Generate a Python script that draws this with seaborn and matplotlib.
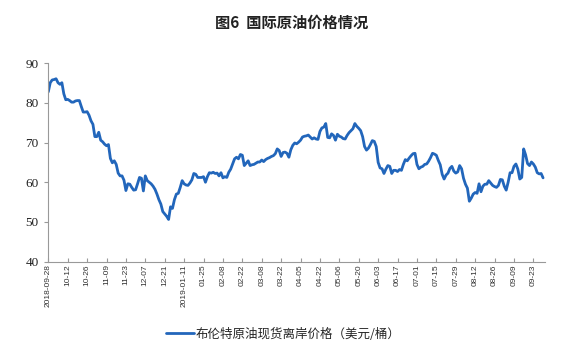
import matplotlib
matplotlib.use("Agg")
import matplotlib.pyplot as plt
import seaborn as sns
import pandas as pd

# Brent spot FOB price, one value per trading day
prices = [
    82.8, 85.1, 85.8, 85.9, 86.1, 85.1, 84.7, 85.1, 82.3, 80.8,
    80.9, 80.6, 80.2, 80.2, 80.5, 80.6, 80.6, 79.1, 77.7, 77.7,
    77.8, 76.9, 75.5, 74.6, 71.5, 71.5, 72.6, 70.6, 70.2, 69.6,
    69.2, 69.5, 66.0, 64.9, 65.4, 64.5, 62.3, 61.6, 61.6, 60.5,
    57.9, 59.6, 59.5, 58.7, 58.0, 58.1, 59.6, 61.2, 61.0, 57.8,
    61.6, 60.4, 60.0, 59.6, 59.0, 58.2, 57.0, 55.6, 54.5, 52.6,
    52.0, 51.4, 50.6, 53.8, 53.4, 55.6, 57.0, 57.2, 58.7, 60.4,
    59.6, 59.3, 59.2, 59.8, 60.6, 62.2, 62.0, 61.2, 61.2, 61.2,
    61.4, 60.0, 61.4, 62.4, 62.3, 62.5, 62.2, 62.3, 61.6, 62.4,
    61.1, 61.4, 61.2, 62.5, 63.3, 64.6, 65.9, 66.3, 65.9, 67.0,
    66.8, 64.2, 64.8, 65.4, 64.2, 64.4, 64.5, 64.8, 65.1, 65.1,
    65.6, 65.2, 65.7, 66.0, 66.2, 66.5, 66.7, 67.2, 68.4, 68.0,
    66.5, 67.5, 67.6, 67.3, 66.3, 68.2, 69.3, 69.9, 69.7, 70.1,
    70.6, 71.4, 71.6, 71.7, 71.9, 71.4, 70.9, 71.2, 70.9, 70.8,
    72.8, 73.7, 73.9, 74.8, 71.3, 71.2, 72.2, 71.8, 70.6, 72.1,
    71.6, 71.4, 71.0, 70.9, 71.8, 72.5, 73.0, 73.5, 74.8, 74.1,
    73.6, 73.0, 71.5, 69.0, 68.1, 68.6, 69.5, 70.5, 70.3, 69.0,
    65.0, 63.6, 63.4, 62.2, 63.3, 64.2, 64.0, 62.2, 63.0, 63.0,
    62.7, 63.2, 63.0, 64.5, 65.7, 65.4, 66.1, 66.7, 67.2, 67.3,
    64.5, 63.4, 63.8, 64.0, 64.5, 64.6, 65.3, 66.2, 67.3, 67.1,
    66.8, 65.5, 64.4, 62.0, 60.8, 61.8, 62.3, 63.5, 64.0, 62.8,
    62.3, 62.6, 64.2, 63.4, 61.0, 59.5, 58.5, 55.2, 56.0, 57.0,
    57.4, 57.2, 59.6, 57.6, 59.0, 59.5, 59.5, 60.4, 59.8, 59.2,
    58.9, 58.7, 59.2, 60.7, 60.6, 59.0, 58.0, 60.0, 62.4, 62.4,
    64.0, 64.6, 63.3, 60.8, 61.2, 68.4, 66.9, 64.7, 64.2, 65.1,
    64.6, 63.8, 62.4, 62.1, 62.2, 61.1,
]

tick_labels = [
    "2018-09-28", "10-12", "10-26", "11-09", "11-23", "12-07", "12-21",
    "2019-01-11", "01-25", "02-08", "02-22", "03-08", "03-22", "04-05",
    "04-22", "05-06", "05-20", "06-03", "06-17", "07-01", "07-15",
    "07-29", "08-12", "08-26", "09-09", "09-23",
]
y_ticks = [40, 50, 60, 70, 80, 90]
series_name = "布伦特原油现货离岸价格（美元/桶）"
title = "图6  国际原油价格情况"

df = pd.DataFrame({"day": list(range(len(prices))), "price": prices})

sns.set_theme(style="white")
plt.rcParams["font.family"] = ["Noto Sans CJK SC", "DejaVu Sans"]

fig = plt.figure(figsize=(5.61, 3.57), dpi=100)
ax = fig.add_axes([0.0861, 0.2675, 0.8854, 0.5552])

sns.lineplot(data=df, x="day", y="price", ax=ax, color="#2266BB",
             linewidth=2.0, label=series_name)

ax.set_xlim(0, 256)
ax.set_ylim(40, 90)
ax.set_yticks(y_ticks)
ax.set_yticklabels([str(v) for v in y_ticks], fontfamily="Liberation Serif",
                   fontsize=9.5, color="#222222")
ax.set_xticks(list(range(0, 10 * len(tick_labels), 10)))
ax.set_xticklabels(tick_labels, rotation=90, fontsize=6,
                   fontfamily="Liberation Sans", color="#333333")
ax.set_xlabel("")
ax.set_ylabel("")

for side in ["top", "right"]:
    ax.spines[side].set_visible(False)
for side in ["left", "bottom"]:
    ax.spines[side].set_color("#999999")
    ax.spines[side].set_linewidth(0.8)

ax.tick_params(axis="y", direction="out", length=3, width=0.8, color="#999999",
               pad=4, left=True)
ax.tick_params(axis="x", direction="in", length=3, width=0.8, color="#999999",
               pad=2, bottom=True)
ax.grid(False)

handles, labels = ax.get_legend_handles_labels()
ax.get_legend().remove()
fig.legend(handles, labels, loc="center", bbox_to_anchor=(0.505, 0.064),
           frameon=False, fontsize=9, handlelength=2.2, handletextpad=0.1)

fig.text(0.519, 1 - 23 / 357, title, ha="center", va="center",
         fontsize=11, fontweight="bold", color="#222222")

fig.savefig("out.png", dpi=100)
